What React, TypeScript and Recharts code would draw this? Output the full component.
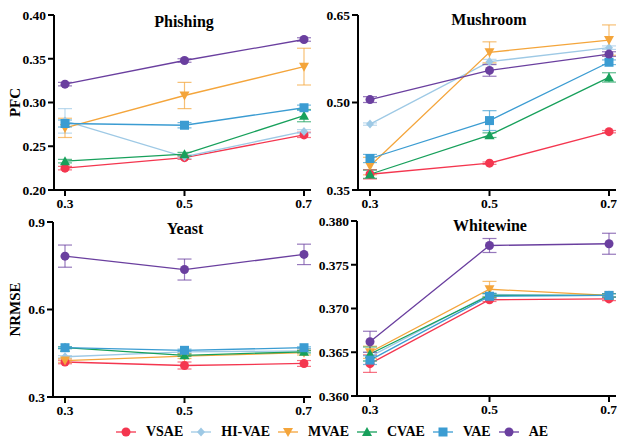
import { LineChart, Line, XAxis, YAxis, ErrorBar } from "recharts";

const FONT = "'Liberation Serif', 'Times New Roman', serif";

const xs = [0.3, 0.5, 0.7];
const methods = ["VSAE", "HI-VAE", "MVAE", "CVAE", "VAE", "AE"];
const colors = ["#f4364f", "#9ec9e5", "#f4a53b", "#17a05b", "#3b9cd2", "#6a3f9f"];
const shapes = ["circle", "diamond", "triDown", "triUp", "square", "circle"];

// Phishing (PFC)
const phishingVals = [
  [0.225, 0.237, 0.263],
  [0.279, 0.238, 0.267],
  [0.271, 0.308, 0.341],
  [0.233, 0.241, 0.285],
  [0.276, 0.274, 0.294],
  [0.321, 0.348, 0.372],
];
const phishingErr = [
  [0.002, 0.002, 0.003],
  [0.014, 0.002, 0.002],
  [0.011, 0.015, 0.021],
  [0.002, 0.002, 0.007],
  [0.004, 0.003, 0.003],
  [0.002, 0.002, 0.002],
];

// Mushroom (PFC)
const mushroomVals = [
  [0.377, 0.396, 0.45],
  [0.463, 0.57, 0.594],
  [0.391, 0.586, 0.607],
  [0.377, 0.444, 0.543],
  [0.404, 0.469, 0.569],
  [0.505, 0.555, 0.583],
];
const mushroomErr = [
  [0.008, 0.002, 0.002],
  [0.002, 0.004, 0.003],
  [0.015, 0.018, 0.026],
  [0.007, 0.004, 0.008],
  [0.007, 0.017, 0.004],
  [0.005, 0.01, 0.004],
];

// Yeast (NRMSE)
const yeastVals = [
  [0.42, 0.408, 0.415],
  [0.438, 0.455, 0.458],
  [0.425, 0.44, 0.452],
  [0.469, 0.443, 0.455],
  [0.469, 0.46, 0.469],
  [0.783, 0.737, 0.789],
];
const yeastErr = [
  [0.006, 0.012, 0.01],
  [0.004, 0.004, 0.004],
  [0.006, 0.008, 0.008],
  [0.003, 0.004, 0.004],
  [0.003, 0.004, 0.003],
  [0.038, 0.036, 0.035],
];

// Whitewine (NRMSE)
const wineVals = [
  [0.3637, 0.371, 0.3711],
  [0.3645, 0.3716, 0.3715],
  [0.365, 0.3722, 0.3715],
  [0.3648, 0.3715, 0.3715],
  [0.3641, 0.3714, 0.3715],
  [0.3662, 0.3772, 0.3774],
];
const wineErr = [
  [0.001, 0.0002, 0.0002],
  [0.0005, 0.0002, 0.0002],
  [0.0007, 0.0009, 0.0002],
  [0.0008, 0.0002, 0.0002],
  [0.0005, 0.0003, 0.0002],
  [0.0012, 0.0008, 0.0012],
];

const phishingTicks = [0.2, 0.25, 0.3, 0.35, 0.4];
const mushroomTicks = [0.35, 0.5, 0.65];
const yeastTicks = [0.3, 0.6, 0.9];
const wineTicks = [0.36, 0.365, 0.37, 0.375, 0.38];

const Marker = ({ shape, cx, cy, color }: any) => {
  if (cx == null || cy == null) return null;
  if (shape === "circle") return <circle cx={cx} cy={cy} r={4.5} fill={color} />;
  if (shape === "square")
    return <rect x={cx - 4.5} y={cy - 4.5} width={9} height={9} fill={color} />;
  if (shape === "diamond")
    return (
      <path d={`M${cx},${cy - 4.5}L${cx + 4},${cy}L${cx},${cy + 4.5}L${cx - 4},${cy}Z`} fill={color} />
    );
  if (shape === "triUp")
    return (
      <path d={`M${cx},${cy - 5}L${cx + 5},${cy + 4}L${cx - 5},${cy + 4}Z`} fill={color} />
    );
  return <path d={`M${cx},${cy + 5}L${cx + 5},${cy - 4}L${cx - 5},${cy - 4}Z`} fill={color} />;
};

const tickStyle = { fill: "#000", fontFamily: FONT, fontWeight: 700, fontSize: 13.5 };
const axisLine = { stroke: "#000", strokeWidth: 2 };

interface PanelProps {
  title: string;
  titleX: number;
  titleY: number;
  yLabel?: string;
  vals: number[][];
  errs: number[][];
  ticks: number[];
  digits: number;
  left: number;
  top: number;
  width: number;
  height: number;
  yWidth: number;
  marginTop: number;
  padLeft: number;
}

const Panel = (p: PanelProps) => {
  const data = xs.map((x, i) => {
    const row: any = { x };
    methods.forEach((m, k) => {
      row[m] = p.vals[k][i];
      row[m + "_err"] = p.errs[k][i];
    });
    return row;
  });
  return (
    <div style={{ position: "absolute", left: p.left, top: p.top }}>
      <LineChart
        width={p.width}
        height={p.height}
        data={data}
        margin={{ top: p.marginTop, right: 1, left: 0, bottom: 0 }}
      >
        <XAxis
          dataKey="x"
          type="number"
          domain={[0.3, 0.7]}
          ticks={xs}
          padding={{ left: p.padLeft, right: 7 }}
          tickFormatter={(v: number) => v.toFixed(1)}
          tick={tickStyle}
          axisLine={axisLine}
          tickLine={axisLine}
          tickSize={6}
          height={20}
        />
        <YAxis
          type="number"
          domain={[p.ticks[0], p.ticks[p.ticks.length - 1]]}
          ticks={p.ticks}
          tickFormatter={(v: number) => v.toFixed(p.digits)}
          tick={tickStyle}
          axisLine={axisLine}
          tickLine={axisLine}
          tickSize={6}
          width={p.yWidth}
          label={
            p.yLabel
              ? {
                  content: (lp: any) => {
                    const vb = lp.viewBox || {};
                    const x = (vb.x || 0) + 15;
                    const y = (vb.y || 0) + (vb.height || 0) / 2;
                    return (
                      <text
                        x={x}
                        y={y}
                        transform={`rotate(-90 ${x} ${y})`}
                        textAnchor="middle"
                        dominantBaseline="central"
                        fontFamily={FONT}
                        fontWeight={700}
                        fontSize={15}
                        fill="#000"
                      >
                        {p.yLabel}
                      </text>
                    );
                  },
                }
              : undefined
          }
        />
        {methods.map((m, k) => (
          <Line
            key={m}
            dataKey={m}
            stroke={colors[k]}
            strokeWidth={1.3}
            isAnimationActive={false}
            dot={(dp: any) => (
              <Marker key={`${m}-${dp.index}`} shape={shapes[k]} cx={dp.cx} cy={dp.cy} color={colors[k]} />
            )}
            activeDot={false}
          >
            <ErrorBar
              dataKey={m + "_err"}
              width={7}
              stroke={colors[k]}
              strokeOpacity={0.7}
              strokeWidth={1.2}
              direction="y"
              isAnimationActive={false}
            />
          </Line>
        ))}
      </LineChart>
      <div
        style={{
          position: "absolute",
          left: p.titleX - p.left,
          top: p.titleY - p.top,
          transform: "translate(-50%, -50%)",
          fontFamily: FONT,
          fontWeight: 700,
          fontSize: 16,
          lineHeight: 1,
          whiteSpace: "nowrap",
        }}
      >
        {p.title}
      </div>
    </div>
  );
};

const LegendRow = () => (
  <div
    style={{
      position: "absolute",
      left: 0,
      top: 424,
      width: 672,
      display: "flex",
      justifyContent: "center",
      alignItems: "center",
      fontFamily: FONT,
      fontWeight: 700,
      fontSize: 14,
    }}
  >
    {methods.map((m, k) => (
      <div key={m} style={{ display: "flex", alignItems: "center", marginRight: 8 }}>
        <svg width={20} height={12} style={{ marginRight: 10 }}>
          <line x1={0} y1={6} x2={20} y2={6} stroke={colors[k]} strokeWidth={1.3} />
          <Marker shape={shapes[k]} cx={10} cy={6} color={colors[k]} />
        </svg>
        <span>{m}</span>
      </div>
    ))}
  </div>
);

export default function App() {
  return (
    <div style={{ position: "absolute", left: 0, top: 0, width: 618, height: 441, background: "#fff" }}>
      <Panel
        title="Phishing"
        titleX={184}
        titleY={22}
        yLabel="PFC"
        vals={phishingVals}
        errs={phishingErr}
        ticks={phishingTicks}
        digits={2}
        left={0}
        top={0}
        width={312}
        height={210}
        yWidth={54}
        marginTop={15}
        padLeft={11}
      />
      <Panel
        title="Mushroom"
        titleX={489}
        titleY={20}
        vals={mushroomVals}
        errs={mushroomErr}
        ticks={mushroomTicks}
        digits={2}
        left={300}
        top={0}
        width={317}
        height={210}
        yWidth={58}
        marginTop={15}
        padLeft={12}
      />
      <Panel
        title="Yeast"
        titleX={185}
        titleY={229}
        yLabel="NRMSE"
        vals={yeastVals}
        errs={yeastErr}
        ticks={yeastTicks}
        digits={1}
        left={0}
        top={205}
        width={312}
        height={212}
        yWidth={53}
        marginTop={17}
        padLeft={12}
      />
      <Panel
        title="Whitewine"
        titleX={490}
        titleY={226}
        vals={wineVals}
        errs={wineErr}
        ticks={wineTicks}
        digits={3}
        left={300}
        top={205}
        width={317}
        height={211}
        yWidth={57}
        marginTop={16}
        padLeft={13}
      />
      <LegendRow />
    </div>
  );
}
